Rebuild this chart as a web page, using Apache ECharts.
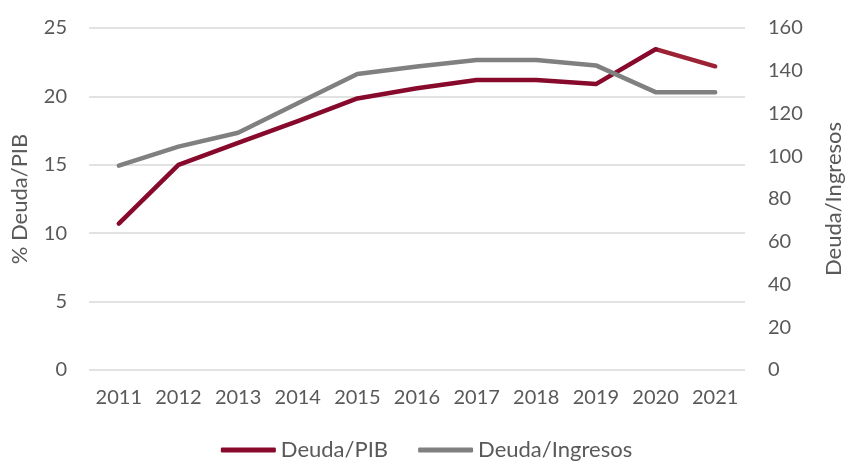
<!DOCTYPE html>
<html>
<head>
<meta charset="utf-8">
<script src="https://cdn.jsdelivr.net/npm/echarts@6/dist/echarts.min.js"></script>
<style>
  html, body { margin: 0; padding: 0; background: #fff; }
  #chart { width: 853px; height: 464px; }
</style>
</head>
<body>
<div id="chart"></div>
<script>
const years = ['2011', '2012', '2013', '2014', '2015', '2016', '2017', '2018', '2019', '2020', '2021']
const deudaPib = [10.7, 15.0, 16.6, 18.2, 19.85, 20.6, 21.2, 21.2, 20.9, 23.45, 22.2]
const deudaIngresos = [95.6, 104.5, 111, 124.8, 138.5, 142, 145, 145, 142.5, 130, 130]

const RED = '#870A2C'
const RED_LIGHT = '#9B2335'
const GRAY = '#808080'
const TEXT = '#595959'
const FONT = 'Lato'

// last segment (2020-2021) is drawn in a lighter red
const splitAt = (years.length - 2) / (years.length - 1)
const redLine = new echarts.graphic.LinearGradient(0, 0, 1, 0, [
    { offset: 0, color: RED },
    { offset: splitAt, color: RED },
    { offset: splitAt, color: RED_LIGHT },
    { offset: 1, color: RED_LIGHT }
])

const chart = echarts.init(document.getElementById('chart'))
chart.setOption({
    animation: false,
    textStyle: { fontFamily: FONT },
    grid: { left: 89, right: 95, top: 28, bottom: 94 },
    legend: {
        bottom: -2,
        left: 'center',
        icon: 'roundRect',
        itemWidth: 55,
        itemHeight: 5,
        itemGap: 30,
        textStyle: { color: TEXT, fontSize: 22, fontFamily: FONT },
        data: [
            { name: 'Deuda/PIB', itemStyle: { color: RED } },
            { name: 'Deuda/Ingresos', itemStyle: { color: GRAY } }
        ]
    },
    xAxis: {
        type: 'category',
        data: years,
        boundaryGap: true,
        axisLine: { show: false },
        axisTick: { show: false },
        axisLabel: { color: TEXT, fontSize: 20, margin: 18, interval: 0 }
    },
    yAxis: [
        {
            type: 'value',
            min: 0,
            max: 25,
            interval: 5,
            name: '% Deuda/PIB',
            nameLocation: 'middle',
            nameGap: 58,
            nameTextStyle: { color: TEXT, fontSize: 22 },
            axisLine: { show: false },
            axisTick: { show: false },
            axisLabel: { color: TEXT, fontSize: 20, margin: 22 },
            splitLine: { lineStyle: { color: '#D9D9D9', width: 1.5 } }
        },
        {
            type: 'value',
            min: 0,
            max: 160,
            interval: 20,
            name: 'Deuda/Ingresos',
            nameLocation: 'middle',
            nameGap: 78,
            nameTextStyle: { color: TEXT, fontSize: 22 },
            axisLine: { show: false },
            axisTick: { show: false },
            axisLabel: { color: TEXT, fontSize: 20, margin: 23 },
            splitLine: { show: false }
        }
    ],
    series: [
        {
            name: 'Deuda/PIB',
            type: 'line',
            yAxisIndex: 0,
            data: deudaPib,
            symbol: 'none',
            lineStyle: { color: redLine, width: 4.5, cap: 'round', join: 'round' },
            itemStyle: { color: RED }
        },
        {
            name: 'Deuda/Ingresos',
            type: 'line',
            yAxisIndex: 1,
            data: deudaIngresos,
            symbol: 'none',
            lineStyle: { color: GRAY, width: 4.5, cap: 'round', join: 'round' },
            itemStyle: { color: GRAY }
        }
    ]
})
</script>
</body>
</html>
